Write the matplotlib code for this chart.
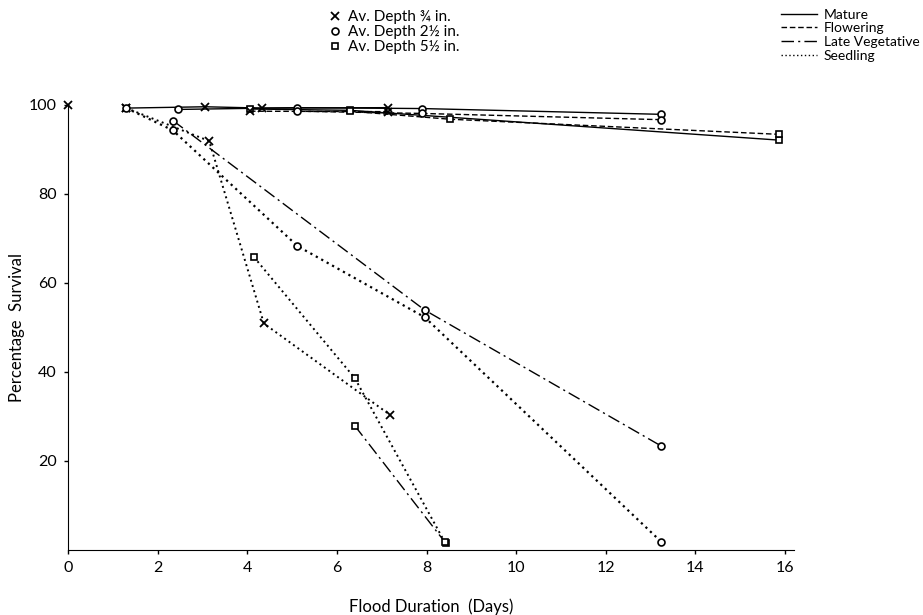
import matplotlib
matplotlib.use('agg')
import matplotlib.pyplot as plt
from matplotlib.lines import Line2D

plt.rcParams['font.family'] = ['Lato', 'DejaVu Sans']

# flood duration (days) and percentage survival
# key: (stage, depth)
mature_34_x = [1.3, 3.06, 4.33, 7.14]
mature_34_y = [99.3, 99.6, 99.3, 99.4]
mature_212_x = [2.46, 5.11, 7.89, 13.23]
mature_212_y = [99.0, 99.4, 99.2, 97.9]
mature_512_x = [4.06, 6.29, 15.87]
mature_512_y = [99.1, 98.8, 92.1]

flower_34_x = [4.06, 7.14]
flower_34_y = [98.6, 98.5]
flower_212_x = [5.11, 7.89, 13.23]
flower_212_y = [98.6, 98.1, 96.7]
flower_512_x = [6.29, 8.52, 15.87]
flower_512_y = [98.6, 96.8, 93.4]

latev_212_x = [2.34, 7.96, 13.23]
latev_212_y = [96.5, 53.9, 23.4]
latev_512_x = [6.40, 8.43]
latev_512_y = [27.9, 1.5]

seed_34_x = [1.3, 3.15, 4.37, 7.18]
seed_34_y = [99.3, 91.9, 50.9, 30.4]
seed_212_x = [1.3, 2.34, 5.12, 7.96, 13.23]
seed_212_y = [99.3, 94.3, 68.3, 52.3, 1.9]
seed_512_x = [4.15, 6.40, 8.41]
seed_512_y = [65.8, 38.6, 1.7]

start_x = [0]
start_y = [100]

depth_labels = ['Av. Depth ¾ in.', 'Av. Depth 2½ in.', 'Av. Depth 5½ in.']
stage_labels = ['Mature', 'Flowering', 'Late Vegetative', 'Seedling']

xticks = [0, 2, 4, 6, 8, 10, 12, 14, 16]
yticks = [20, 40, 60, 80, 100]

ls_mature = '-'
ls_flower = (0, (4, 2))
ls_latev = (0, (9, 3, 1.5, 3))
ls_seed = (0, (1, 1.8))

mk = {'x': dict(marker='x', ms=6, mew=1.3),
      'o': dict(marker='o', ms=5, mew=1.2, mfc='white'),
      's': dict(marker='s', ms=5, mew=1.2, mfc='white')}

fig = plt.figure(figsize=(9.23, 6.15), dpi=100)
ax = fig.add_axes([0.0737, 0.1057, 0.7866, 0.7236])

def draw(x, y, ls, m, lw=1.0):
    ax.plot(x, y, color='black', linestyle=ls, lw=lw, clip_on=False, **mk[m])

draw(mature_34_x, mature_34_y, ls_mature, 'x')
draw(mature_212_x, mature_212_y, ls_mature, 'o')
draw(mature_512_x, mature_512_y, ls_mature, 's')
draw(flower_34_x, flower_34_y, ls_flower, 'x')
draw(flower_212_x, flower_212_y, ls_flower, 'o')
draw(flower_512_x, flower_512_y, ls_flower, 's')
draw(latev_212_x, latev_212_y, ls_latev, 'o')
draw(latev_512_x, latev_512_y, ls_latev, 's')
draw(seed_34_x, seed_34_y, ls_seed, 'x', lw=1.4)
draw(seed_212_x, seed_212_y, ls_seed, 'o', lw=1.6)
draw(seed_512_x, seed_512_y, ls_seed, 's', lw=1.4)
ax.plot(start_x, start_y, color='black', linestyle='none', clip_on=False, **mk['x'])

ax.set_xlim(0, 16.2)
ax.set_ylim(0, 100)
ax.set_xticks(xticks)
ax.set_yticks(yticks)
ax.spines['top'].set_visible(False)
ax.spines['right'].set_visible(False)
ax.tick_params(direction='out', length=3, width=1, labelsize=11.5, pad=5)
ax.set_xlabel('Flood Duration  (Days)', fontsize=12, labelpad=17)
ax.set_ylabel('Percentage  Survival', fontsize=12, labelpad=3)

h_depth = [Line2D([], [], color='black', linestyle='none', **mk[m]) for m in ['x', 'o', 's']]
fig.legend(h_depth, depth_labels, loc='upper left', bbox_to_anchor=(0.356, 0.983),
           frameon=False, fontsize=11, handlelength=0.8, handletextpad=0.5,
           labelspacing=0.05, borderaxespad=0, borderpad=0)
h_stage = [Line2D([], [], color='black', linestyle=ls, lw=1.0)
           for ls in [ls_mature, ls_flower, ls_latev, ls_seed]]
fig.legend(h_stage, stage_labels, loc='upper left', bbox_to_anchor=(0.846, 0.986),
           frameon=False, fontsize=10, handlelength=2.6, handletextpad=0.5,
           labelspacing=0.12, borderaxespad=0, borderpad=0)

fig.savefig('out.png', dpi=100)
